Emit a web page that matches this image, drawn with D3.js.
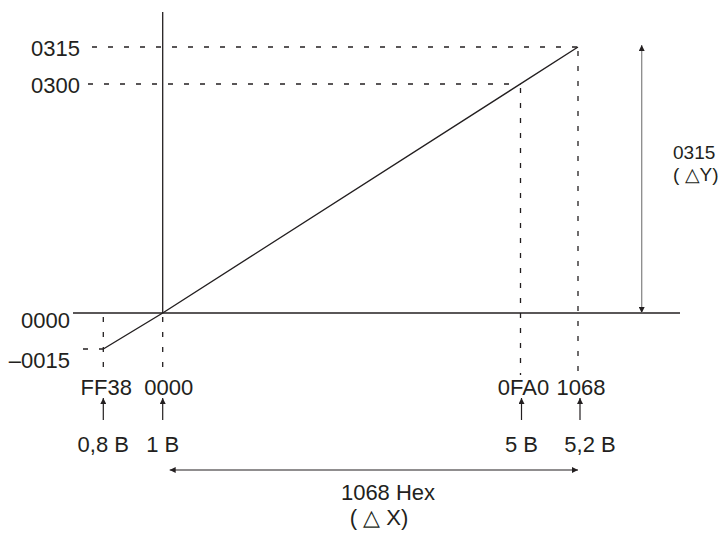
<!DOCTYPE html>
<html>
<head>
<meta charset="utf-8">
<script src="https://cdn.jsdelivr.net/npm/d3@7"></script>
<style>
  html, body { margin: 0; padding: 0; background: #fff; }
  svg { display: block; }
  text { font-family: "Liberation Sans", Arial, Helvetica, sans-serif; font-size: 22px; fill: #231f20; }
</style>
</head>
<body>
<div id="chart"></div>
<script>
// values (hex offsets, decimal equivalents)
const xHexLabels = ["FF38", "0000", "0FA0", "1068"];
const xValues = [-200, 0, 4000, 4200];
const byteLabels = ["0,8 B", "1 B", "5 B", "5,2 B"];

const yHexLabels = ["–0015", "0000", "0300", "0315"];
const yValues = [-21, 0, 768, 789];

// scaling line (offset -> converted value)
const linePoints = [
  { x: -200, y: -21 },
  { x: 0, y: 0 },
  { x: 4200, y: 789 },
];

// corners where dashed guides meet the line
const guidePoints = [
  { x: -200, y: -21 },
  { x: 4000, y: 768 },
  { x: 4200, y: 789 },
];

const deltaXLabels = ["1068 Hex", "( △ X)"];
const deltaYLabels = ["0315", "( △Y)"];

const width = 724;
const height = 533;
// the drawing is schematic, not to scale, so each tick gets its own stop
const xStops = [103.3, 162.7, 520.5, 578];
const yStops = [349, 313, 84, 47];

const svg = d3.select("#chart").append("svg").attr("width", width).attr("height", height);

const x = d3.scaleLinear().domain(xValues).range(xStops);
const y = d3.scaleLinear().domain(yValues).range(yStops);

const ink = "#231f20";

const defs = svg.append("defs");
defs
  .append("marker")
  .attr("id", "head")
  .attr("viewBox", "0 0 10 10")
  .attr("refX", 10)
  .attr("refY", 5)
  .attr("markerUnits", "userSpaceOnUse")
  .attr("markerWidth", 9)
  .attr("markerHeight", 6)
  .attr("orient", "auto-start-reverse")
  .append("path")
  .attr("d", "M0,0L10,5L0,10Z")
  .attr("fill", ink);

// axes
svg
  .append("line")
  .attr("x1", 73)
  .attr("x2", 680)
  .attr("y1", y(0))
  .attr("y2", y(0))
  .attr("stroke", ink)
  .attr("stroke-width", 1.3);

svg
  .append("line")
  .attr("x1", x(0))
  .attr("x2", x(0))
  .attr("y1", 12)
  .attr("y2", y(0))
  .attr("stroke", ink)
  .attr("stroke-width", 1.3);

// horizontal dashed guides from the y labels to the line
const labelRight = (v) => (v > 0 ? 80 : 70);
svg
  .append("g")
  .selectAll("line")
  .data(guidePoints)
  .join("line")
  .attr("x1", (d) => labelRight(d.y) + (d.y === 789 ? 12 : d.y > 0 ? 8 : 13))
  .attr("x2", (d) => x(d.x))
  .attr("y1", (d) => y(d.y))
  .attr("y2", (d) => y(d.y))
  .attr("stroke", ink)
  .attr("stroke-width", 1.3)
  .attr("stroke-dasharray", "5,11");

// vertical dashed guides down to the hex labels
const guideY = new Map(guidePoints.map((d) => [d.x, d.y]));
svg
  .append("g")
  .selectAll("line")
  .data(xValues)
  .join("line")
  .attr("x1", (d) => x(d))
  .attr("x2", (d) => x(d))
  .attr("y1", (d) => Math.min(y(guideY.has(d) ? guideY.get(d) : 0), y(0)) + 4)
  .attr("y2", 375)
  .attr("stroke", ink)
  .attr("stroke-width", 1.3)
  .attr("stroke-dasharray", "5,10");

// the conversion line
svg
  .append("path")
  .datum(linePoints)
  .attr("fill", "none")
  .attr("stroke", ink)
  .attr("stroke-width", 1.4)
  .attr(
    "d",
    d3
      .line()
      .x((d) => x(d.x))
      .y((d) => y(d.y)),
  );

// y labels
svg
  .append("g")
  .selectAll("text")
  .data(yValues)
  .join("text")
  .attr("x", (d) => labelRight(d))
  .attr("y", (d) => y(d) + (d > 0 ? 8.5 : d === 0 ? 15 : 19))
  .attr("text-anchor", "end")
  .text((d, i) => yHexLabels[i]);

// x hex labels, arrows and byte labels
svg
  .append("g")
  .selectAll("text")
  .data(xValues)
  .join("text")
  .attr("x", (d, i) => x(d) + (i === 1 ? 6 : 3))
  .attr("y", 395)
  .attr("text-anchor", "middle")
  .text((d, i) => xHexLabels[i]);

svg
  .append("g")
  .selectAll("line")
  .data(xValues)
  .join("line")
  .attr("x1", (d, i) => x(d) + (i === 3 ? 2 : i === 2 ? 1 : 0))
  .attr("x2", (d, i) => x(d) + (i === 3 ? 2 : i === 2 ? 1 : 0))
  .attr("y1", 420)
  .attr("y2", 398)
  .attr("stroke", ink)
  .attr("stroke-width", 1.2)
  .attr("marker-end", "url(#head)");

svg
  .append("g")
  .selectAll("text")
  .data(xValues)
  .join("text")
  .attr("x", (d, i) => x(d) + (i === 3 ? 12 : i === 2 ? 1 : 0))
  .attr("y", 452)
  .attr("text-anchor", "middle")
  .text((d, i) => byteLabels[i]);

// delta X span
svg
  .append("line")
  .attr("x1", x(0) + 7)
  .attr("x2", x(4200))
  .attr("y1", 470)
  .attr("y2", 470)
  .attr("stroke", ink)
  .attr("stroke-width", 1.2)
  .attr("marker-start", "url(#head)")
  .attr("marker-end", "url(#head)");

svg
  .append("text")
  .attr("y", 500)
  .attr("text-anchor", "middle")
  .selectAll("tspan")
  .data(deltaXLabels)
  .join("tspan")
  .attr("x", (d, i) => (i === 0 ? 388 : 379))
  .attr("dy", (d, i) => (i === 0 ? 0 : 25))
  .text((d) => d);

// delta Y span
svg
  .append("line")
  .attr("x1", 641.7)
  .attr("x2", 641.7)
  .attr("y1", y(0))
  .attr("y2", y(789) - 2)
  .attr("stroke", "#8a8a8a")
  .attr("stroke-width", 1.3)
  .attr("marker-start", "url(#head)")
  .attr("marker-end", "url(#head)");

svg
  .append("text")
  .attr("y", 159)
  .style("font-size", "19px")
  .selectAll("tspan")
  .data(deltaYLabels)
  .join("tspan")
  .attr("x", 673)
  .attr("dy", (d, i) => (i === 0 ? 0 : 22))
  .text((d) => d);
</script>
</body>
</html>
